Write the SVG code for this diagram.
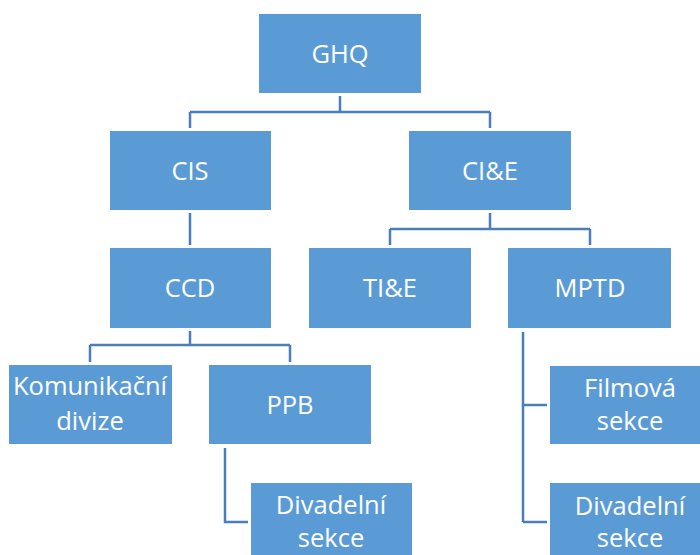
<svg xmlns="http://www.w3.org/2000/svg" width="700" height="555" viewBox="0 0 700 555">
<style>
.box{fill:#5B9BD5;}
.t{fill:#fff;font-family:"Open Sans","Liberation Sans",sans-serif;font-size:25.5px;text-anchor:middle;}
.c{fill:none;stroke:#4A7EBB;stroke-width:2.5;}
</style>
<rect width="700" height="555" fill="#fff"/>
<g id="connectors">
<path class="c" d="M340 96V112M190 112H490M190 112V128M490 112V128"/>
<path class="c" d="M190 213V245"/>
<path class="c" d="M490 213V229M390 229H590M390 229V245M590 229V245"/>
<path class="c" d="M190 331V345M90 345H290M90 345V362M290 345V362"/>
<path class="c" d="M225 448V522H248"/>
<path class="c" d="M523 332V522M523 405H547M523 522H547"/>
</g>
<g id="ghq"><rect class="box" x="259" y="14" width="162" height="79"/><text class="t" x="340" y="63">GHQ</text></g>
<g id="cis"><rect class="box" x="110" y="131" width="161" height="79"/><text class="t" x="190" y="180">CIS</text></g>
<g id="cie"><rect class="box" x="409" y="131" width="162" height="79"/><text class="t" x="490" y="180">CI&amp;E</text></g>
<g id="ccd"><rect class="box" x="110" y="248" width="161" height="80"/><text class="t" x="190" y="297">CCD</text></g>
<g id="tie"><rect class="box" x="309" y="248" width="162" height="80"/><text class="t" x="390" y="297">TI&amp;E</text></g>
<g id="mptd"><rect class="box" x="508" y="248" width="163" height="80"/><text class="t" x="590" y="297">MPTD</text></g>
<g id="komunikacni"><rect class="box" x="9" y="365" width="163" height="79"/><text class="t" x="90" y="395">Komunikační</text><text class="t" x="90" y="430">divize</text></g>
<g id="ppb"><rect class="box" x="209" y="365" width="162" height="79"/><text class="t" x="290" y="414">PPB</text></g>
<g id="divadelni1"><rect class="box" x="251" y="483" width="161" height="79"/><text class="t" x="331" y="514">Divadelní</text><text class="t" x="331" y="547">sekce</text></g>
<g id="filmova"><rect class="box" x="550" y="366" width="160" height="78"/><text class="t" x="630" y="397">Filmová</text><text class="t" x="630" y="430">sekce</text></g>
<g id="divadelni2"><rect class="box" x="550" y="483" width="160" height="79"/><text class="t" x="630" y="515">Divadelní</text><text class="t" x="630" y="547">sekce</text></g>
</svg>
